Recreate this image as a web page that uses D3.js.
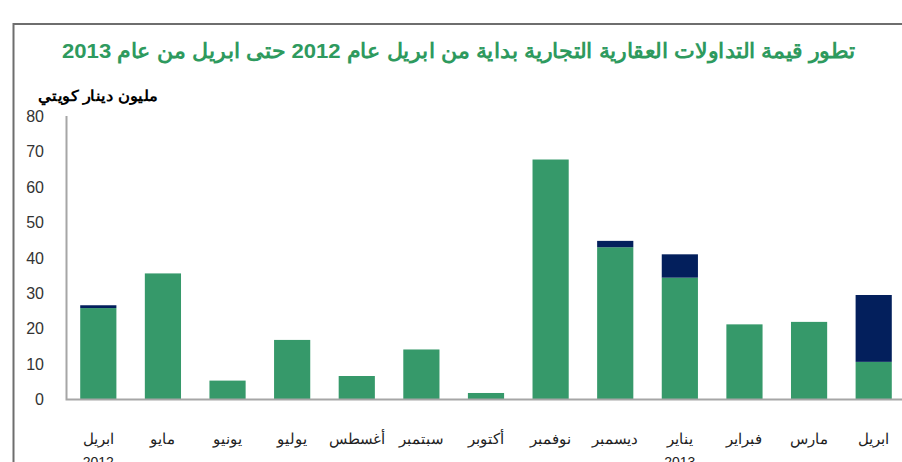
<!DOCTYPE html>
<html>
<head>
<meta charset="utf-8">
<script src="https://cdn.jsdelivr.net/npm/d3@7"></script>
<style>
body { margin: 0; background: #fff; }
svg { display: block; font-family: "Liberation Sans", Arial, sans-serif; }
</style>
</head>
<body>
<div id="chart"></div>
<script>
var width = 902;
var height = 462;

// months, left to right
var months = ["ابريل", "مايو", "يونيو", "يوليو", "أغسطس", "سبتمبر", "أكتوبر", "نوفمبر", "ديسمبر", "يناير", "فبراير", "مارس", "ابريل"];
var years = ["2012", "", "", "", "", "", "", "", "", "2013", "", "", ""];
var greenVals = [25.7, 35.5, 5.2, 16.7, 6.5, 14.0, 1.7, 67.7, 42.9, 34.3, 21.1, 21.8, 10.5];
var navyVals = [0.8, 0, 0, 0, 0, 0, 0, 0, 1.8, 6.6, 0, 0, 18.9];
var yTicks = [0, 10, 20, 30, 40, 50, 60, 70, 80];

var green = "#36996a";
var navy = "#031f5c";

var svg = d3.select("#chart").append("svg")
  .attr("width", width)
  .attr("height", height);

// frame
svg.append("path")
  .attr("d", "M13.5," + height + "V24H" + width)
  .attr("fill", "none")
  .attr("stroke", "#6e6e6e")
  .attr("stroke-width", 2);

// rtl: "start" anchors the right edge
svg.append("text")
  .attr("x", 855).attr("y", 58)
  .attr("text-anchor", "start")
  .attr("direction", "rtl")
  .attr("fill", "#2e9a5e")
  .attr("font-size", 21)
  .attr("font-weight", "bold")
  .attr("textLength", 793)
  .attr("lengthAdjust", "spacingAndGlyphs")
  .text("تطور قيمة التداولات العقارية التجارية بداية من ابريل عام 2012  حتى ابريل من عام 2013");

svg.append("text")
  .attr("x", 158).attr("y", 101)
  .attr("text-anchor", "start")
  .attr("direction", "rtl")
  .attr("fill", "#000")
  .attr("font-size", 15)
  .attr("font-weight", "bold")
  .attr("textLength", 120)
  .attr("lengthAdjust", "spacingAndGlyphs")
  .text("مليون دينار كويتي");

var x = d3.scaleBand()
  .domain(d3.range(months.length))
  .range([66, 906])
  .paddingInner(0.44)
  .paddingOuter(0.22);

var y = d3.scaleLinear()
  .domain([0, 80])
  .range([399, 116]);

// y tick labels
svg.append("g")
  .selectAll("text")
  .data(yTicks)
  .enter().append("text")
  .attr("x", 44)
  .attr("y", d => y(d) + 6)
  .attr("text-anchor", "end")
  .attr("font-size", 16)
  .attr("fill", "#333")
  .text(d => d);

var bars = svg.append("g");
bars.selectAll(".g")
  .data(greenVals)
  .enter().append("rect")
  .attr("x", (d, i) => x(i))
  .attr("width", x.bandwidth())
  .attr("y", d => y(d))
  .attr("height", d => y(0) - y(d))
  .attr("fill", green);

bars.selectAll(".n")
  .data(navyVals)
  .enter().append("rect")
  .attr("x", (d, i) => x(i))
  .attr("width", x.bandwidth())
  .attr("y", (d, i) => y(greenVals[i] + d))
  .attr("height", d => y(0) - y(d))
  .attr("fill", navy);

// axes lines
svg.append("path")
  .attr("d", "M66.5,116V399.5H" + width)
  .attr("fill", "none")
  .attr("stroke", "#a6a6a6")
  .attr("stroke-width", 2);

var labels = svg.append("g");
labels.selectAll(".m")
  .data(months)
  .enter().append("text")
  .attr("x", (d, i) => x(i) + x.bandwidth() / 2)
  .attr("y", 444)
  .attr("text-anchor", "middle")
  .attr("direction", "rtl")
  .attr("font-size", 15)
  .attr("fill", "#222")
  .text(d => d);

// second line of the first/january labels, partly cut by the frame edge as in the source
labels.selectAll(".y")
  .data(years)
  .enter().append("text")
  .attr("x", (d, i) => x(i) + x.bandwidth() / 2)
  .attr("y", 467)
  .attr("text-anchor", "middle")
  .attr("font-size", 14)
  .attr("fill", "#222")
  .text(d => d);
</script>
</body>
</html>
